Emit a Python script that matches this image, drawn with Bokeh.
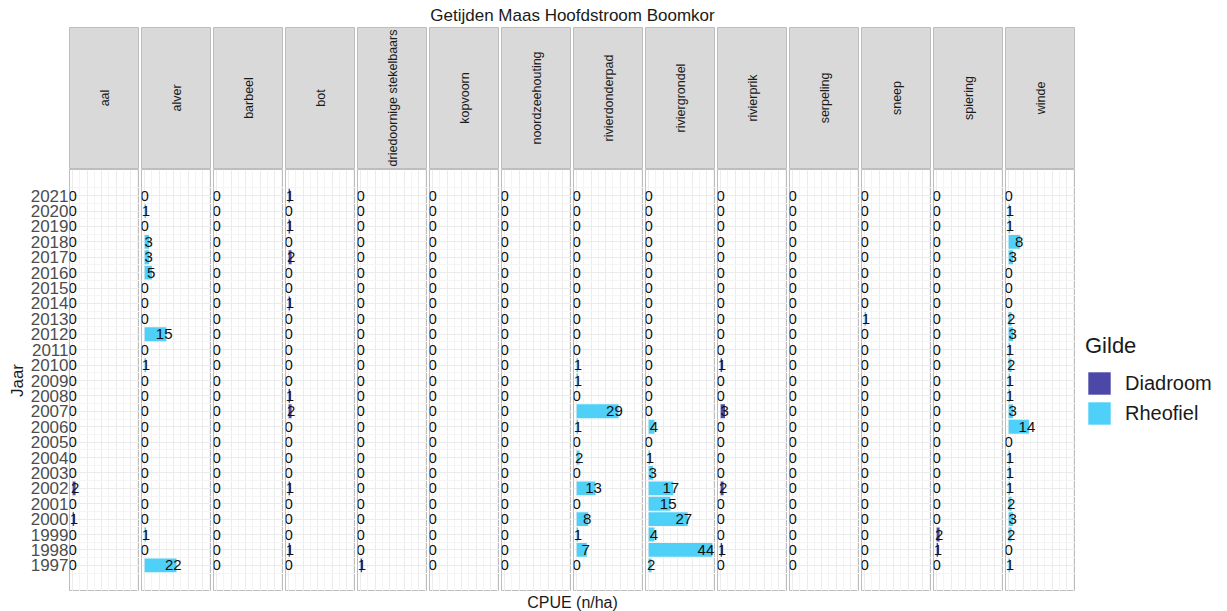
import math
from bokeh.plotting import figure
from bokeh.models import (Range1d, ColumnDataSource, FixedTicker, Label, Legend,
                          LegendItem)
from bokeh.layouts import row, column
from bokeh.embed import file_html
from bokeh.resources import INLINE

# ---------------- data ----------------
years = [2021, 2020, 2019, 2018, 2017, 2016, 2015, 2014, 2013, 2012, 2011, 2010, 2009,
         2008, 2007, 2006, 2005, 2004, 2003, 2002, 2001, 2000, 1999, 1998, 1997]

species = ["aal", "alver", "barbeel", "bot", "driedoornige stekelbaars", "kopvoorn",
           "noordzeehouting", "rivierdonderpad", "riviergrondel", "rivierprik",
           "serpeling", "sneep", "spiering", "winde"]
gilde = ["Diadroom", "Rheofiel", "Rheofiel", "Diadroom", "Diadroom", "Rheofiel",
         "Diadroom", "Rheofiel", "Rheofiel", "Diadroom", "Rheofiel", "Rheofiel",
         "Diadroom", "Rheofiel"]

aal = [0, 0, 0, 0, 0, 0, 0, 0, 0, 0, 0, 0, 0, 0, 0, 0, 0, 0, 0, 2, 0, 1, 0, 0, 0]
alver = [0, 1, 0, 3, 3, 5, 0, 0, 0, 15, 0, 1, 0, 0, 0, 0, 0, 0, 0, 0, 0, 0, 1, 0, 22]
barbeel = [0, 0, 0, 0, 0, 0, 0, 0, 0, 0, 0, 0, 0, 0, 0, 0, 0, 0, 0, 0, 0, 0, 0, 0, 0]
bot = [1, 0, 1, 0, 2, 0, 0, 1, 0, 0, 0, 0, 0, 1, 2, 0, 0, 0, 0, 1, 0, 0, 0, 1, 0]
driedoornige_stekelbaars = [0, 0, 0, 0, 0, 0, 0, 0, 0, 0, 0, 0, 0, 0, 0, 0, 0, 0, 0, 0, 0, 0, 0, 0, 1]
kopvoorn = [0, 0, 0, 0, 0, 0, 0, 0, 0, 0, 0, 0, 0, 0, 0, 0, 0, 0, 0, 0, 0, 0, 0, 0, 0]
noordzeehouting = [0, 0, 0, 0, 0, 0, 0, 0, 0, 0, 0, 0, 0, 0, 0, 0, 0, 0, 0, 0, 0, 0, 0, 0, 0]
rivierdonderpad = [0, 0, 0, 0, 0, 0, 0, 0, 0, 0, 0, 1, 1, 0, 29, 1, 0, 2, 0, 13, 0, 8, 1, 7, 0]
riviergrondel = [0, 0, 0, 0, 0, 0, 0, 0, 0, 0, 0, 0, 0, 0, 0, 4, 0, 1, 3, 17, 15, 27, 4, 44, 2]
rivierprik = [0, 0, 0, 0, 0, 0, 0, 0, 0, 0, 0, 1, 0, 0, 3, 0, 0, 0, 0, 2, 0, 0, 0, 1, 0]
serpeling = [0, 0, 0, 0, 0, 0, 0, 0, 0, 0, 0, 0, 0, 0, 0, 0, 0, 0, 0, 0, 0, 0, 0, 0, 0]
sneep = [0, 0, 0, 0, 0, 0, 0, 0, 1, 0, 0, 0, 0, 0, 0, 0, 0, 0, 0, 0, 0, 0, 0, 0, 0]
spiering = [0, 0, 0, 0, 0, 0, 0, 0, 0, 0, 0, 0, 0, 0, 0, 0, 0, 0, 0, 0, 0, 0, 2, 1, 0]
winde = [0, 1, 1, 8, 3, 0, 0, 0, 2, 3, 1, 2, 1, 1, 3, 14, 0, 1, 1, 1, 2, 3, 2, 0, 1]

values = [aal, alver, barbeel, bot, driedoornige_stekelbaars, kopvoorn, noordzeehouting,
          rivierdonderpad, riviergrondel, rivierprik, serpeling, sneep, spiering, winde]

gilde_names = ["Diadroom", "Rheofiel"]
gilde_colors = {"Diadroom": "#4B48A8", "Rheofiel": "#4FD0F8"}

title_text = "Getijden Maas Hoofdstroom Boomkor"
x_title = "CPUE (n/ha)"
y_title = "Jaar"
legend_title = "Gilde"

# ---------------- style ----------------
FONT = "Liberation Sans"
PANEL_W = 70
LEFT_W = 69
LEGEND_W = 146
GAP = 2
TITLE_H = 27
STRIP_H = 142
PANEL_H = 422
XLAB_H = 20
BORDER = "#BDBDBD"
GRID_MAJOR = "#EBEBEB"
GRID_MINOR = "#F4F4F4"
TOTAL_W = LEFT_W + PANEL_W * 14 + GAP * 14 + LEGEND_W
LABEL_POS = 0.9   # label anchor as fraction of bar length

vmax = max(max(v) for v in values)
x_lo, x_hi = -0.05 * vmax, vmax * 1.05
y_lo, y_hi = min(years) - 1.7, max(years) + 1.7

x_major = [0, 10, 20, 30, 40]
x_minor = [5, 15, 25, 35, 45]
y_minor = [y + 0.5 for y in years] + [min(years) - 0.5]


def base_fig(width, height, **kw):
    p = figure(width=width, height=height, output_backend="svg", toolbar_location=None,
               min_border=0, **kw)
    p.border_fill_color = "white"
    return p


def blank_fig(width, height):
    p = base_fig(width, height, x_axis_location=None, y_axis_location=None,
                 x_range=Range1d(0, 1), y_range=Range1d(0, 1))
    p.outline_line_color = None
    p.grid.visible = False
    return p


center_x = LEFT_W + (PANEL_W * 14 + GAP * 13) / 2

# ---------------- title ----------------
tfig = blank_fig(TOTAL_W, TITLE_H)
tfig.add_layout(Label(x=center_x, y=TITLE_H - 15, x_units="screen", y_units="screen",
                      text=title_text, text_align="center", text_baseline="middle",
                      text_font=FONT, text_font_size="17px", text_color="#1A1A1A"))

# ---------------- strips ----------------
strips = []
for i, name in enumerate(species):
    w = PANEL_W + (LEFT_W if i == 0 else 0)
    s = base_fig(w, STRIP_H, x_axis_location=None, y_axis_location=None,
                 x_range=Range1d(0, 1), y_range=Range1d(0, 1))
    if i == 0:
        s.min_border_left = LEFT_W
    s.min_border_bottom = 1
    s.grid.visible = False
    s.background_fill_color = "#D9D9D9"
    s.outline_line_color = BORDER
    s.add_layout(Label(x=0.5, y=0.5, text=name, angle=math.pi / 2, text_align="center",
                       text_baseline="middle", text_font=FONT, text_font_size="12.5px",
                       text_color="#1A1A1A"))
    strips.append(s)

# ---------------- panels ----------------
panels = []
for i, (name, g, vals) in enumerate(zip(species, gilde, values)):
    w = PANEL_W + (LEFT_W if i == 0 else 0)
    p = base_fig(w, PANEL_H, x_axis_location=None,
                 y_axis_location="left" if i == 0 else None,
                 x_range=Range1d(x_lo, x_hi), y_range=Range1d(y_lo, y_hi))
    p.outline_line_color = BORDER
    p.background_fill_color = "white"
    p.xgrid.ticker = FixedTicker(ticks=x_major, minor_ticks=x_minor)
    p.ygrid.ticker = FixedTicker(ticks=years, minor_ticks=y_minor)
    for gr in (p.xgrid, p.ygrid):
        gr.grid_line_color = GRID_MAJOR
        gr.grid_line_width = 1
        gr.minor_grid_line_color = GRID_MINOR
        gr.minor_grid_line_width = 1

    src = ColumnDataSource(dict(year=years, value=vals,
                                pos=[v * LABEL_POS for v in vals],
                                label=[str(int(round(v))) for v in vals]))
    p.hbar(y="year", left=0, right="value", height=0.9, source=src,
           fill_color=gilde_colors[g], line_color=None)
    p.text(x="pos", y="year", text="label", source=src, text_align="center",
           text_baseline="middle", text_font={"value": FONT}, text_font_size="15px",
           text_color="#111111")

    if i == 0:
        p.min_border_left = LEFT_W
        ax = p.yaxis[0]
        ax.ticker = FixedTicker(ticks=years)
        ax.major_tick_out = 0
        ax.major_tick_in = 0
        ax.minor_tick_out = 0
        ax.minor_tick_in = 0
        ax.axis_line_color = None
        ax.major_tick_line_color = None
        ax.minor_tick_line_color = None
        ax.major_label_standoff = 1
        ax.major_label_text_font = FONT
        ax.major_label_text_font_size = "17px"
        ax.major_label_text_color = "#4D4D4D"
        ax.axis_label = y_title
        ax.axis_label_standoff = 1
        ax.axis_label_text_font = FONT
        ax.axis_label_text_font_size = "17px"
        ax.axis_label_text_font_style = "normal"
        ax.axis_label_text_color = "#1A1A1A"
    panels.append(p)

# ---------------- legend ----------------
lfig = blank_fig(LEGEND_W, PANEL_H)
items = []
for gn in gilde_names:
    r = lfig.hbar(y=[0.5], left=[0], right=[0], height=0,
                  fill_color=gilde_colors[gn], line_color=None)
    items.append(LegendItem(label=gn, renderers=[r]))
legend = Legend(items=items, location="center_left", title=legend_title,
                title_text_font=FONT, title_text_font_size="22px",
                title_text_font_style="normal", title_text_color="#1A1A1A",
                title_standoff=10,
                label_text_font=FONT, label_text_font_size="20px",
                label_text_color="#1A1A1A",
                glyph_width=28, glyph_height=28, label_height=28,
                spacing=2, label_standoff=12, padding=0, margin=8,
                border_line_color=None, background_fill_alpha=0)
lfig.add_layout(legend)
panels.append(lfig)

# ---------------- x title ----------------
xfig = blank_fig(TOTAL_W, XLAB_H)
xfig.add_layout(Label(x=center_x, y=XLAB_H - 11, x_units="screen", y_units="screen",
                      text=x_title, text_align="center", text_baseline="middle",
                      text_font=FONT, text_font_size="16px", text_color="#1A1A1A"))

layout = column(tfig, row(*strips, spacing=GAP), row(*panels, spacing=GAP), xfig,
                spacing=0)

open("out.html", "w").write(file_html(layout, INLINE))
